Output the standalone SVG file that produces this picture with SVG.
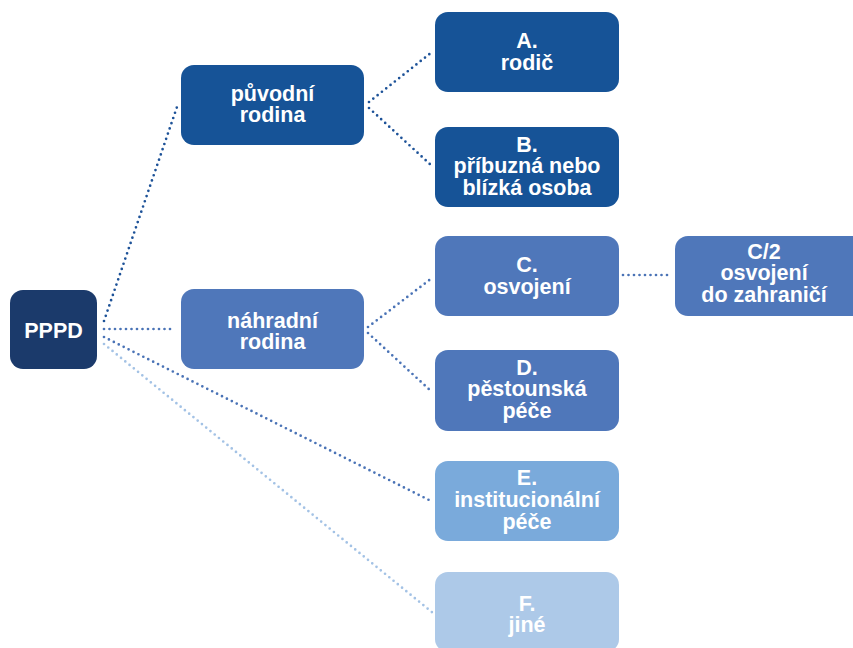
<svg xmlns="http://www.w3.org/2000/svg" width="853" height="648" viewBox="0 0 853 648">
<style>
text{font-family:"Liberation Sans",Arial,sans-serif;font-weight:bold;font-size:21.5px;fill:#ffffff;text-anchor:middle}
.c{fill:none;stroke-width:2.7;stroke-linecap:round;stroke-dasharray:0 5.5}
.dk{stroke:#1d5298}
.md{stroke:#4a73b6}
.lt{stroke:#a3c2e5}
.n0{fill:#1b3a6b}
.n1{fill:#165397}
.n2{fill:#4f77ba}
.n3{fill:#7aaadb}
.n4{fill:#adc9e8}
</style>
<rect width="853" height="648" fill="#ffffff"/>
<g id="connectors">
<line class="c dk" x1="104" y1="321" x2="178" y2="104"/>
<line class="c md" x1="104" y1="329" x2="175" y2="329"/>
<line class="c md" x1="104" y1="337" x2="433" y2="502"/>
<line class="c lt" x1="104" y1="344" x2="433" y2="613"/>
<line class="c dk" x1="369" y1="102" x2="432" y2="52"/>
<line class="c dk" x1="369" y1="108" x2="432" y2="166"/>
<line class="c md" x1="368" y1="327" x2="432" y2="278"/>
<line class="c md" x1="368" y1="333" x2="432" y2="392"/>
<line class="c md" x1="623" y1="275" x2="671" y2="275"/>
</g>
<g id="pppd">
<rect class="n0" x="10" y="290" width="87" height="79" rx="13"/>
<text x="53.5" y="338">PPPD</text>
</g>
<g id="puvodni">
<rect class="n1" x="181" y="65" width="183" height="80" rx="13"/>
<text x="272.5" y="101">původní</text>
<text x="272.5" y="122">rodina</text>
</g>
<g id="nahradni">
<rect class="n2" x="181" y="289" width="183" height="80" rx="13"/>
<text x="272.5" y="328">náhradní</text>
<text x="272.5" y="349">rodina</text>
</g>
<g id="a">
<rect class="n1" x="435" y="12" width="184" height="80" rx="13"/>
<text x="527" y="48">A.</text>
<text x="527" y="70">rodič</text>
</g>
<g id="b">
<rect class="n1" x="435" y="127" width="184" height="80" rx="13"/>
<text x="527" y="151.5">B.</text>
<text x="527" y="173">příbuzná nebo</text>
<text x="527" y="195">blízká osoba</text>
</g>
<g id="c">
<rect class="n2" x="435" y="236" width="184" height="80" rx="13"/>
<text x="527" y="272">C.</text>
<text x="527" y="294">osvojení</text>
</g>
<g id="c2">
<rect class="n2" x="675" y="236" width="190" height="80" rx="13"/>
<text x="764" y="258.5">C/2</text>
<text x="764" y="280">osvojení</text>
<text x="764" y="301.5">do zahraničí</text>
</g>
<g id="d">
<rect class="n2" x="435" y="350" width="184" height="81" rx="13"/>
<text x="527" y="374.5">D.</text>
<text x="527" y="396">pěstounská</text>
<text x="527" y="417.5">péče</text>
</g>
<g id="e">
<rect class="n3" x="435" y="461" width="184" height="80" rx="13"/>
<text x="527" y="485">E.</text>
<text x="527" y="507">institucionální</text>
<text x="527" y="529">péče</text>
</g>
<g id="f">
<rect class="n4" x="435" y="572" width="184" height="80" rx="13"/>
<text x="527" y="611">F.</text>
<text x="527" y="632">jiné</text>
</g>
</svg>
